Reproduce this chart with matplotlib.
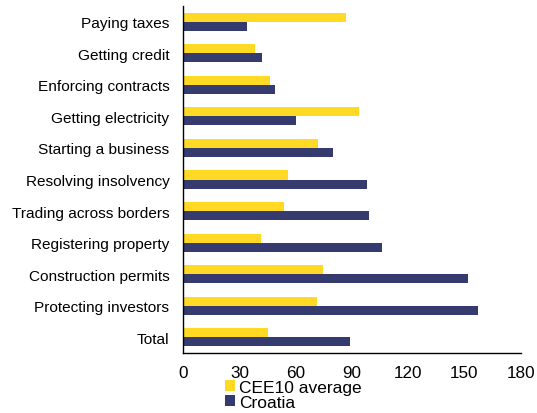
import matplotlib
matplotlib.use("Agg")
import matplotlib.pyplot as plt
import numpy as np

plt.rcParams['font.family'] = ['Liberation Sans', 'DejaVu Sans']

categories = ["Paying taxes", "Getting credit", "Enforcing contracts", "Getting electricity",
              "Starting a business", "Resolving insolvency", "Trading across borders",
              "Registering property", "Construction permits", "Protecting investors", "Total"]
cee10 = [86.6, 38, 46, 94, 72, 56, 53.7, 41.4, 74.3, 71.5, 45]
croatia = [34, 42, 49, 60, 80, 98, 99, 106, 152, 157, 89]
xticks = [0, 30, 60, 90, 120, 150, 180]

yellow = "#FFD923"
navy = "#353B6F"

fig = plt.figure(figsize=(5.37, 4.14), dpi=100)
ax = fig.add_axes([183.3/537, 1-354/414, (520.7-183.3)/537, (354-7)/414])

y = np.arange(len(categories))
h = 0.286
ax.barh(y - h/2, cee10, height=h, color=yellow, label="CEE10 average")
ax.barh(y + h/2, croatia, height=h, color=navy, label="Croatia")

ax.set_ylim(len(categories) - 0.5, -0.5)
ax.set_xlim(0, 180)
ax.set_xticks(xticks)
ax.set_yticks(y)
ax.set_yticklabels(categories)
ax.tick_params(axis='both', length=0, colors='black')
ax.tick_params(axis='y', pad=10, labelsize=11.1)
ax.tick_params(axis='x', pad=8.5, labelsize=12.3)
for s in ['top', 'right']:
    ax.spines[s].set_visible(False)
for s in ['left', 'bottom']:
    ax.spines[s].set_color('black')
    ax.spines[s].set_linewidth(1.0)

fig.legend(loc='upper left', bbox_to_anchor=(225/537, 1-381/414), bbox_transform=fig.transFigure,
           frameon=False, fontsize=12.5, handlelength=0.58, handleheight=0.58,
           handletextpad=0.23, labelspacing=0.0, borderpad=0, borderaxespad=0)

fig.savefig("out.png", dpi=100)
